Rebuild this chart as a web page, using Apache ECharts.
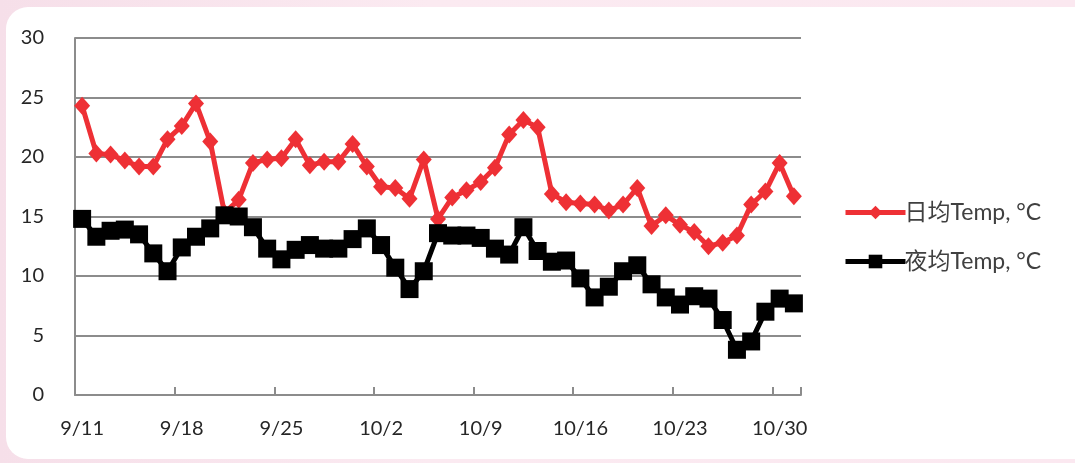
<!DOCTYPE html>
<html>
<head>
<meta charset="utf-8">
<script src="https://cdn.jsdelivr.net/npm/echarts@6/dist/echarts.min.js"></script>
<style>
  html, body { margin: 0; padding: 0; }
  body {
    width: 1075px; height: 463px; overflow: hidden; position: relative;
    background: linear-gradient(90deg, #f6dfe9 0%, #fbeaf1 40%, #fbe8f0 100%);
  }
  .panel {
    position: absolute; left: 6px; top: 7px; width: 1090px; height: 452px;
    background: #fff; border-radius: 22px;
  }
  #chart { position: absolute; left: 0; top: 0; width: 1075px; height: 463px; }
</style>
</head>
<body>
<div class="panel"></div>
<div id="chart"></div>
<script>
// 9/11 ~ 10/31
var dates = [];
for (var d = 11; d <= 30; d++) dates.push('9/' + d);
for (var d2 = 1; d2 <= 31; d2++) dates.push('10/' + d2);

var dayTemp = [
  24.3, 20.3, 20.2, 19.7, 19.2, 19.2, 21.5, 22.6, 24.5, 21.3,
  15.3, 16.4, 19.5, 19.8, 19.9, 21.5, 19.3, 19.6, 19.6, 21.1,
  19.2, 17.5, 17.4, 16.5, 19.8, 14.8, 16.6, 17.2, 17.9, 19.1,
  21.9, 23.1, 22.5, 16.9, 16.2, 16.1, 16.0, 15.5, 16.0, 17.4,
  14.2, 15.1, 14.3, 13.7, 12.5, 12.8, 13.4, 16.0, 17.1, 19.5,
  16.7
];
var nightTemp = [
  14.8, 13.3, 13.8, 13.9, 13.5, 11.9, 10.4, 12.4, 13.3, 14.0,
  15.1, 15.0, 14.1, 12.3, 11.4, 12.2, 12.6, 12.3, 12.3, 13.1,
  14.0, 12.6, 10.7, 8.9, 10.4, 13.6, 13.4, 13.4, 13.2, 12.3,
  11.8, 14.1, 12.1, 11.2, 11.3, 9.8, 8.2, 9.1, 10.4, 10.9,
  9.3, 8.2, 7.6, 8.3, 8.1, 6.3, 3.8, 4.5, 7.0, 8.1,
  7.7
];
var seriesNames = ['日均Temp, °C', '夜均Temp, °C'];

var font = 'Lato, "Noto Sans", "Noto Sans CJK SC", sans-serif';
var chart = echarts.init(document.getElementById('chart'));
var option = {
  animation: false,
  backgroundColor: 'transparent',
  grid: { left: 75, right: 274, top: 38, bottom: 68, containLabel: false },
  legend: {
    orient: 'vertical',
    left: 838,
    top: 196,
    itemWidth: 60,
    itemHeight: 17,
    itemGap: 26,
    lineStyle: { width: 5 },
    textStyle: { fontFamily: font, fontSize: 23, color: '#404040', padding: [0, 0, 0, -6] },
    data: seriesNames
  },
  xAxis: {
    type: 'category',
    data: dates,
    boundaryGap: true,
    axisLine: { show: true, lineStyle: { color: '#8c8c8c', width: 2 } },
    axisTick: { show: true, inside: true, length: 8, interval: 6, lineStyle: { color: '#8c8c8c', width: 2 } },
    axisLabel: { interval: 6, margin: 24, fontFamily: font, fontSize: 20, color: '#262626' },
    splitLine: { show: false }
  },
  yAxis: {
    type: 'value',
    min: 0, max: 30, interval: 5,
    axisLine: { show: true, lineStyle: { color: '#8c8c8c', width: 2 } },
    axisTick: { show: false },
    axisLabel: { margin: 31, fontFamily: font, fontSize: 20, color: '#262626' },
    splitLine: { show: true, lineStyle: { color: '#8c8c8c', width: 2 } }
  },
  series: [
    {
      name: seriesNames[0],
      type: 'line',
      data: dayTemp,
      symbol: 'diamond',
      symbolSize: [16, 18],
      showAllSymbol: true,
      lineStyle: { color: '#ee3035', width: 5 },
      itemStyle: { color: '#ee3035' },
      z: 2
    },
    {
      name: seriesNames[1],
      type: 'line',
      data: nightTemp,
      symbol: 'rect',
      symbolSize: 18,
      showAllSymbol: true,
      lineStyle: { color: '#000', width: 5 },
      itemStyle: { color: '#000' },
      z: 3
    }
  ]
};
chart.setOption(option);
</script>
</body>
</html>
